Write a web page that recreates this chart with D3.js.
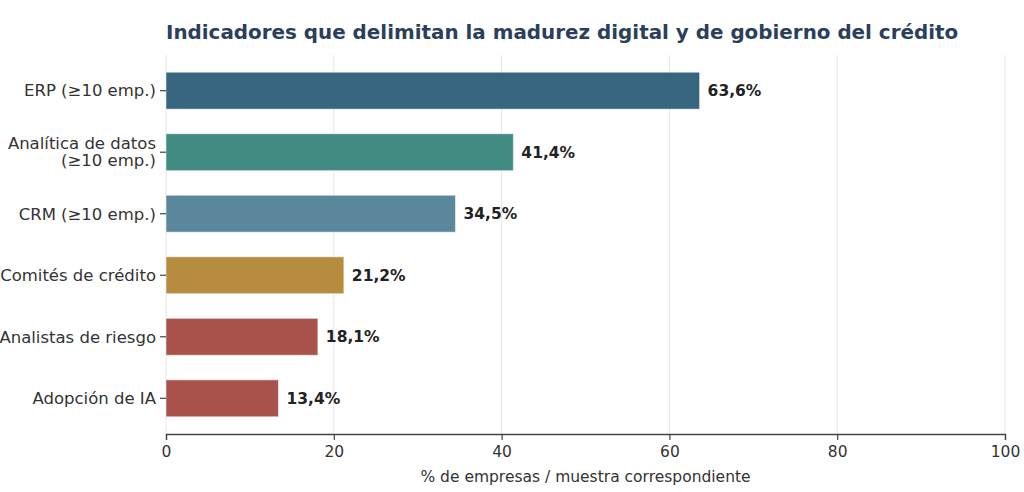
<!DOCTYPE html>
<html>
<head>
  <meta charset="utf-8">
  <script src="https://cdn.jsdelivr.net/npm/d3@7"></script>
  <style>
    body { margin: 0; background: #fff; }
    text { font-family: "DejaVu Sans", sans-serif; }
  </style>
</head>
<body>
  <svg id="chart"></svg>
  <script>
    // Data
    const categories = ["ERP (≥10 emp.)", "Analítica de datos\n(≥10 emp.)", "CRM (≥10 emp.)",
      "Comités de crédito", "Analistas de riesgo", "Adopción de IA"];
    const values = [63.6, 41.4, 34.5, 21.2, 18.1, 13.4];
    const colors = ["#225472", "#2c7e76", "#497a92", "#ae8129", "#9e3f37", "#9e3f37"];
    const xTicks = [0, 20, 40, 60, 80, 100];

    const width = 1024, height = 492;
    const margin = { top: 55, right: 19, bottom: 58, left: 166 };

    const svg = d3.select("#chart")
      .attr("width", width)
      .attr("height", height);

    const x = d3.scaleLinear()
      .domain([0, 100])
      .range([margin.left, width - margin.right]);

    // matplotlib-like band spacing: bars 0.6 wide, 5% margins
    const n = categories.length;
    const lo = -0.3 - 0.05 * (n - 1 + 0.6), hi = n - 1 + 0.3 + 0.05 * (n - 1 + 0.6);
    const y = d3.scaleLinear()
      .domain([lo, hi])
      .range([margin.top, height - margin.bottom]);
    const barH = y(0.6) - y(0);

    // Grid lines
    svg.append("g")
      .selectAll("line")
      .data(xTicks)
      .join("line")
      .attr("x1", d => x(d)).attr("x2", d => x(d))
      .attr("y1", margin.top).attr("y2", height - margin.bottom)
      .attr("stroke", "#e6e6e6")
      .attr("stroke-width", 1);

    // Bars
    svg.append("g")
      .selectAll("rect")
      .data(values)
      .join("rect")
      .attr("x", x(0))
      .attr("y", (d, i) => y(i) - barH / 2)
      .attr("width", d => x(d) - x(0))
      .attr("height", barH)
      .attr("fill", (d, i) => colors[i])
      .attr("fill-opacity", 0.9)
      .attr("stroke", "#ffffff")
      .attr("stroke-opacity", 0.5)
      .attr("stroke-width", 1);

    // Value labels
    svg.append("g")
      .selectAll("text")
      .data(values)
      .join("text")
      .attr("x", d => x(d) + 8)
      .attr("y", (d, i) => y(i))
      .attr("dy", "0.35em")
      .attr("font-size", 15.5)
      .attr("font-weight", "bold")
      .attr("fill", "#222")
      .text(d => d.toFixed(1).replace(".", ",") + "%");

    // X axis
    const xAxis = svg.append("g")
      .attr("transform", `translate(0,${height - margin.bottom})`)
      .call(d3.axisBottom(x).tickValues(xTicks).tickSize(6).tickPadding(6).tickFormat(d3.format("d")));
    xAxis.select(".domain").attr("stroke", "#444").attr("stroke-width", 1.3);
    xAxis.selectAll(".tick line").attr("stroke", "#444").attr("stroke-width", 1.2);
    xAxis.selectAll(".tick text").attr("font-size", 15.5).attr("fill", "#333")
      .style("font-family", "DejaVu Sans, sans-serif");

    // Y tick marks and labels
    const yt = svg.append("g")
      .selectAll("g")
      .data(categories)
      .join("g")
      .attr("transform", (d, i) => `translate(${margin.left},${y(i)})`);
    yt.append("line")
      .attr("x1", -6).attr("x2", 0)
      .attr("stroke", "#444").attr("stroke-width", 1.2);
    yt.each(function (d) {
      const lines = d.split("\n");
      const t = d3.select(this).append("text")
        .attr("x", -10)
        .attr("text-anchor", "end")
        .attr("font-size", 16.5)
        .attr("fill", "#333");
      lines.forEach((ln, k) => {
        t.append("tspan")
          .attr("x", -10)
          .attr("y", (k - (lines.length - 1) / 2) * 17)
          .attr("dy", "0.35em")
          .text(ln);
      });
    });

    // Title
    svg.append("text")
      .attr("x", margin.left)
      .attr("y", 39)
      .attr("font-size", 19.9)
      .attr("font-weight", "bold")
      .attr("fill", "#2b3f5c")
      .text("Indicadores que delimitan la madurez digital y de gobierno del crédito");

    // X label
    svg.append("text")
      .attr("x", (x(0) + x(100)) / 2)
      .attr("y", 482)
      .attr("text-anchor", "middle")
      .attr("font-size", 15.5)
      .attr("fill", "#333")
      .text("% de empresas / muestra correspondiente");
  </script>
</body>
</html>
